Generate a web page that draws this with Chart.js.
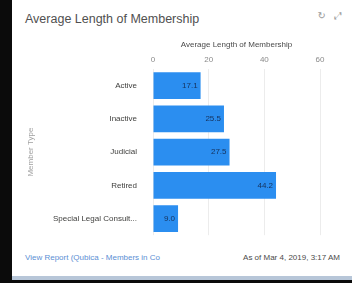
<!DOCTYPE html>
<html lang="en">
<head>
  <meta charset="UTF-8" />
  <title>Average Length of Membership</title>
  <script src="https://cdn.jsdelivr.net/npm/chart.js"></script>
  <style>
    body {
      margin: 0;
      background: #0b0b0b;
      width: 352px;
      height: 283px;
      overflow: hidden;
      font-family: 'Liberation Sans', Arial, sans-serif;
    }
    .card {
      position: absolute;
      left: 12px;
      top: 0;
      width: 340px;
      height: 276px;
      background: #ffffff;
    }
    .strip {
      position: absolute;
      left: 12px;
      top: 276px;
      width: 340px;
      height: 4px;
      background: #b7c6d8;
    }
    .title {
      position: absolute;
      left: 13px;
      top: 12px;
      font-size: 12.5px;
      color: #505050;
    }
    .icons {
      position: absolute;
      right: 10px;
      top: 10px;
      font-size: 10px;
      color: #9a9a9a;
      font-family: 'DejaVu Sans', sans-serif;
    }
    .icons span { margin-left: 8px; }
    .chart-box {
      position: absolute;
      left: 0;
      top: 36px;
      width: 340px;
      height: 212px;
    }
    .footer-left {
      position: absolute;
      left: 13px;
      top: 253px;
      font-size: 8px;
      color: #5b8fd4;
    }
    .footer-right {
      position: absolute;
      right: 12px;
      top: 253px;
      font-size: 8px;
      color: #4a4a4a;
    }
  </style>
</head>
<body>
  <div class="card">
    <div class="title">Average Length of Membership</div>
    <div class="icons"><span>&#8635;</span><span>&#10530;</span></div>
    <div class="chart-box"><canvas id="membershipChart"></canvas></div>
    <div class="footer-left">View Report (Qubica - Members in Co</div>
    <div class="footer-right">As of Mar 4, 2019, 3:17 AM</div>
  </div>
  <div class="strip"></div>

  <script>
    const memberTypes = ["Active", "Inactive", "Judicial", "Retired", "Special Legal Consultant"];
    const avgLength = [17.1, 25.5, 27.5, 44.2, 9.0];
    const xTicks = [0, 20, 40, 60];

    // valeurs au bout des barres
    const barLabels = {
      id: 'barLabels',
      afterDatasetsDraw(chart) {
        const ctx = chart.ctx;
        const meta = chart.getDatasetMeta(0);
        ctx.save();
        ctx.font = '8px "Liberation Sans", Arial, sans-serif';
        ctx.fillStyle = '#16325c';
        ctx.textAlign = 'right';
        ctx.textBaseline = 'middle';
        meta.data.forEach((bar, i) => {
          ctx.fillText(avgLength[i].toFixed(1), bar.x - 3, bar.y);
        });
        ctx.restore();
      }
    };

    const ctx = document.getElementById('membershipChart').getContext('2d');
    new Chart(ctx, {
      type: 'bar',
      data: {
        labels: memberTypes,
        datasets: [{
          label: 'Average Length of Membership',
          data: avgLength,
          backgroundColor: '#2b8ef0',
          barPercentage: 0.8,
          categoryPercentage: 1.0
        }]
      },
      options: {
        indexAxis: 'y',
        responsive: true,
        maintainAspectRatio: false,
        animation: false,
        layout: { padding: { left: 0, right: 32, top: 0, bottom: 4 } },
        plugins: {
          legend: { display: false },
          tooltip: { enabled: false }
        },
        scales: {
          x: {
            position: 'top',
            min: 0,
            max: 60,
            afterBuildTicks: axis => { axis.ticks = xTicks.map(v => ({ value: v })); },
            afterFit: axis => { axis.height = 33; },
            grid: { color: '#ececec', drawTicks: false },
            border: { display: false },
            ticks: { color: '#8a8a8a', font: { size: 8 }, padding: 4 },
            title: {
              display: true,
              text: 'Average Length of Membership',
              color: '#4a4a4a',
              font: { size: 8 },
              padding: { top: 4, bottom: 0 }
            }
          },
          y: {
            afterFit: axis => { axis.width = 141; },
            grid: { display: false },
            border: { display: false },
            ticks: {
              color: '#3e3e3c',
              font: { size: 8 },
              padding: 8,
              callback: function (value) {
                const name = this.getLabelForValue(value);
                return name.length > 21 ? name.slice(0, 21) + '...' : name;
              }
            },
            title: {
              display: true,
              text: 'Member Type',
              color: '#a0a0a0',
              font: { size: 8 },
              padding: { top: 14, bottom: 0 }
            }
          }
        }
      },
      plugins: [barLabels]
    });
  </script>
</body>
</html>
